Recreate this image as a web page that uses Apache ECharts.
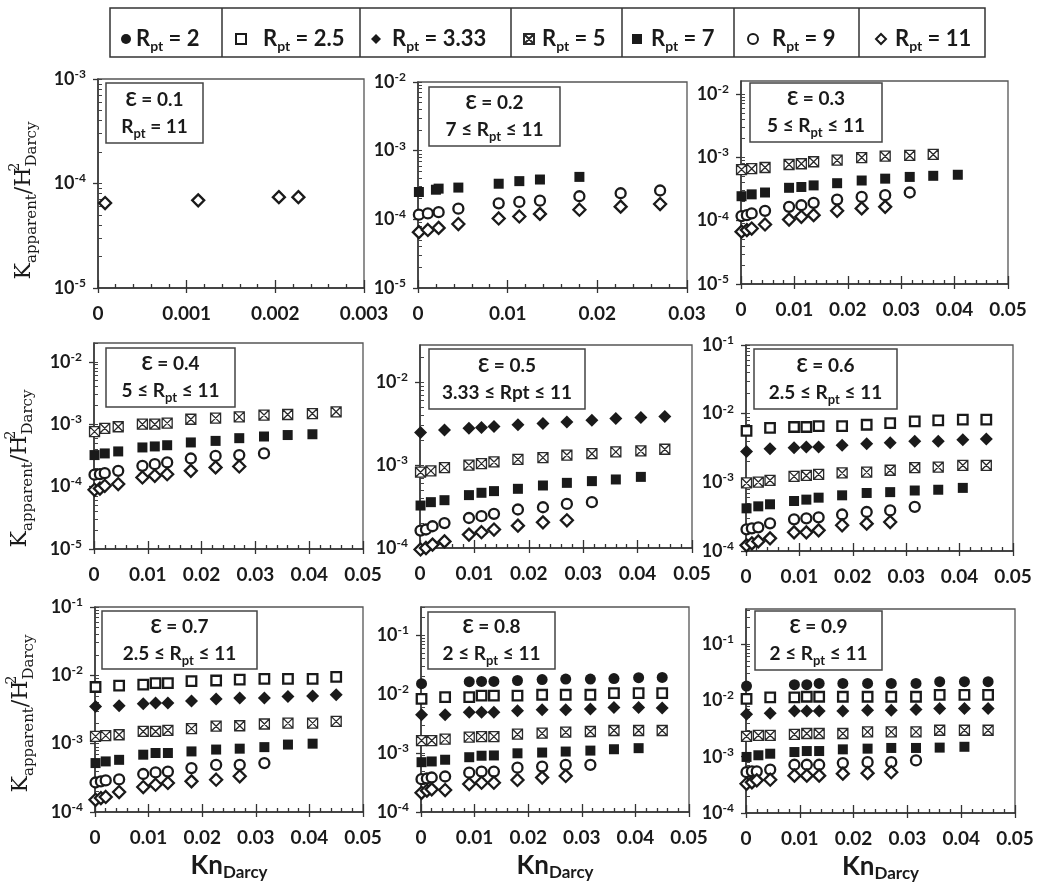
<!DOCTYPE html>
<html lang="en">
<head>
<meta charset="UTF-8">
<title>Kapparent / H2 vs KnDarcy</title>
<script src="https://cdn.jsdelivr.net/npm/echarts@6/dist/echarts.min.js"></script>
<style>
    * { margin: 0; padding: 0; }
    body { background: #fff; }
    #chart { width: 1038px; height: 892px; }
</style>
</head>
<body>
<div id="chart"></div>
<script>
    // Kn_Darcy positions (panel eps = 0.1 only has the first four)
    var KN = [0.0001, 0.0011, 0.002, 0.0023, 0.0045, 0.009, 0.0113, 0.0136, 0.018, 0.0226, 0.027, 0.0316, 0.036, 0.0406, 0.045];
    var KN_01 = [0.00008, 0.00113, 0.00204, 0.00226];

    var EPS = ['0.1', '0.2', '0.3', '0.4', '0.5', '0.6', '0.7', '0.8', '0.9'];
    var RANGES = ['R_pt = 11', '7 ≤ R_pt ≤ 11', '5 ≤ R_pt ≤ 11', '5 ≤ R_pt ≤ 11', '3.33 ≤ Rpt ≤ 11',
        '2.5 ≤ R_pt ≤ 11', '2.5 ≤ R_pt ≤ 11', '2 ≤ R_pt ≤ 11', '2 ≤ R_pt ≤ 11'];
    var NAMES = ['Rpt = 2', 'Rpt = 2.5', 'Rpt = 3.33', 'Rpt = 5', 'Rpt = 7', 'Rpt = 9', 'Rpt = 11'];

    // K_apparent / H^2 values, null = no point at that Kn
    var e01_R11 = [6.5e-5, 6.9e-5, 7.4e-5, 7.4e-5];

    var e02_R7 = [2.5e-4, null, 2.7e-4, 2.8e-4, 2.9e-4, 3.3e-4, 3.6e-4, 3.8e-4, 4.15e-4];
    var e02_R9 = [1.17e-4, 1.22e-4, null, 1.27e-4, 1.43e-4, 1.71e-4, 1.79e-4, 1.87e-4, 2.17e-4, 2.4e-4, 2.63e-4];
    var e02_R11 = [6.5e-5, 7.0e-5, null, 7.5e-5, 8.55e-5, 1.03e-4, 1.1e-4, 1.2e-4, 1.38e-4, 1.53e-4, 1.67e-4];

    var e03_R5 = [6.4e-4, null, 6.6e-4, null, 6.9e-4, 7.7e-4, 7.9e-4, 8.5e-4, 9.0e-4, 9.9e-4, 1.04e-3, 1.07e-3, 1.11e-3];
    var e03_R7 = [2.43e-4, null, 2.6e-4, null, 2.78e-4, 3.3e-4, 3.4e-4, 3.6e-4, 3.9e-4, 4.3e-4, 4.6e-4, 4.9e-4, 5.1e-4, 5.3e-4];
    var e03_R9 = [1.18e-4, 1.22e-4, 1.3e-4, null, 1.43e-4, 1.65e-4, 1.75e-4, 1.91e-4, 2.15e-4, 2.37e-4, 2.52e-4, 2.78e-4];
    var e03_R11 = [6.7e-5, 7.1e-5, 7.5e-5, null, 8.7e-5, 1.04e-4, 1.15e-4, 1.22e-4, 1.43e-4, 1.56e-4, 1.65e-4];

    var e04_R5 = [7.6e-4, null, 8.6e-4, null, 9.1e-4, 1.0e-3, 1.0e-3, 1.04e-3, 1.2e-3, 1.25e-3, 1.31e-3, 1.4e-3, 1.43e-3, 1.48e-3, 1.58e-3];
    var e04_R7 = [3.2e-4, null, 3.4e-4, null, 3.66e-4, 4.24e-4, 4.4e-4, 4.6e-4, 5.1e-4, 5.4e-4, 5.97e-4, 6.35e-4, 6.7e-4, 6.9e-4];
    var e04_R9 = [1.55e-4, 1.58e-4, 1.64e-4, null, 1.79e-4, 2.15e-4, 2.29e-4, 2.44e-4, 2.82e-4, 3.1e-4, 3.2e-4, 3.4e-4];
    var e04_R11 = [8.9e-5, 9.3e-5, 1.03e-4, null, 1.1e-4, 1.4e-4, 1.49e-4, 1.58e-4, 1.79e-4, 2.03e-4, 2.1e-4];

    var e05_R3_33 = [2.46e-3, null, null, null, 2.65e-3, 2.78e-3, 2.83e-3, 2.91e-3, 3.05e-3, 3.16e-3, 3.31e-3, 3.47e-3, 3.63e-3, 3.74e-3, 3.85e-3];
    var e05_R5 = [8.2e-4, null, 8.5e-4, null, 9.3e-4, 1.0e-3, 1.04e-3, 1.09e-3, 1.17e-3, 1.23e-3, 1.32e-3, 1.37e-3, 1.44e-3, 1.48e-3, 1.55e-3];
    var e05_R7 = [3.25e-4, null, 3.57e-4, null, 3.77e-4, 4.34e-4, 4.63e-4, 4.85e-4, 5.17e-4, 5.67e-4, 6.1e-4, 6.4e-4, 6.7e-4, 7.2e-4];
    var e05_R9 = [1.62e-4, 1.67e-4, null, 1.83e-4, 2.0e-4, 2.3e-4, 2.42e-4, 2.58e-4, 2.91e-4, 3.1e-4, 3.4e-4, 3.57e-4];
    var e05_R11 = [9.6e-5, 1.0e-4, null, 1.1e-4, 1.2e-4, 1.45e-4, 1.55e-4, 1.67e-4, 1.86e-4, 2.04e-4, 2.16e-4];

    var e06_R2_5 = [5.6e-3, null, null, null, 6.2e-3, 6.4e-3, 6.4e-3, 6.6e-3, 6.6e-3, 6.9e-3, 7.3e-3, 7.7e-3, 8.0e-3, 8.2e-3, 8.2e-3];
    var e06_R3_33 = [2.82e-3, null, null, null, 3.09e-3, 3.2e-3, 3.27e-3, 3.27e-3, 3.46e-3, 3.66e-3, 3.78e-3, 3.96e-3, 3.96e-3, 4.18e-3, 4.28e-3];
    var e06_R5 = [9.8e-4, null, null, 1.01e-3, 1.07e-3, 1.22e-3, 1.26e-3, 1.31e-3, 1.37e-3, 1.41e-3, 1.5e-3, 1.64e-3, 1.67e-3, 1.77e-3, 1.77e-3];
    var e06_R7 = [4.18e-4, null, null, 4.47e-4, 4.79e-4, 5.35e-4, 5.6e-4, 5.98e-4, 6.47e-4, 7.0e-4, 7.2e-4, 7.6e-4, 7.8e-4, 8.3e-4];
    var e06_R9 = [2.07e-4, 2.14e-4, null, 2.21e-4, 2.53e-4, 2.89e-4, 2.99e-4, 3.09e-4, 3.4e-4, 3.7e-4, 3.9e-4, 4.4e-4];
    var e06_R11 = [1.21e-4, 1.29e-4, null, 1.38e-4, 1.53e-4, 1.87e-4, 1.87e-4, 2.0e-4, 2.37e-4, 2.5e-4, 2.64e-4];

    var e07_R2_5 = [6.75e-3, null, null, null, 7.06e-3, 7.3e-3, 7.7e-3, 7.7e-3, 8.2e-3, 8.4e-3, 8.65e-3, 8.9e-3, 8.9e-3, 8.9e-3, 9.5e-3];
    var e07_R3_33 = [3.5e-3, null, null, null, 3.6e-3, 3.85e-3, 3.95e-3, 3.95e-3, 4.2e-3, 4.5e-3, 4.65e-3, 4.65e-3, 4.9e-3, 5.0e-3, 5.2e-3];
    var e07_R5 = [1.28e-3, null, 1.31e-3, null, 1.35e-3, 1.51e-3, 1.51e-3, 1.57e-3, 1.66e-3, 1.8e-3, 1.83e-3, 1.94e-3, 2.0e-3, 2.0e-3, 2.12e-3];
    var e07_R7 = [5.2e-4, null, 5.5e-4, null, 5.8e-4, 6.9e-4, 7.3e-4, 7.3e-4, 7.7e-4, 8.2e-4, 8.45e-4, 8.9e-4, 9.7e-4, 1.0e-3];
    var e07_R9 = [2.7e-4, 2.8e-4, 2.9e-4, null, 3.0e-4, 3.6e-4, 3.8e-4, 3.9e-4, 4.4e-4, 4.9e-4, 4.9e-4, 5.2e-4];
    var e07_R11 = [1.51e-4, 1.6e-4, 1.66e-4, null, 1.96e-4, 2.32e-4, 2.51e-4, 2.66e-4, 2.81e-4, 2.97e-4, 3.33e-4];

    var e08_R2 = [1.5e-2, null, null, null, null, 1.62e-2, 1.64e-2, 1.64e-2, 1.7e-2, 1.76e-2, 1.8e-2, 1.8e-2, 1.83e-2, 1.9e-2, 1.92e-2];
    var e08_R2_5 = [8.3e-3, null, null, null, 8.9e-3, 8.9e-3, 9.4e-3, 9.4e-3, 9.4e-3, 9.75e-3, 9.75e-3, 9.75e-3, 1.04e-2, 1.04e-2, 1.04e-2];
    var e08_R3_33 = [4.46e-3, null, null, null, 4.46e-3, 4.9e-3, 4.9e-3, 4.9e-3, 5.2e-3, 5.4e-3, 5.4e-3, 5.6e-3, 5.9e-3, 5.9e-3, 5.8e-3];
    var e08_R5 = [1.63e-3, null, 1.63e-3, null, 1.72e-3, 1.86e-3, 1.9e-3, 1.9e-3, 2.09e-3, 2.17e-3, 2.26e-3, 2.32e-3, 2.41e-3, 2.41e-3, 2.41e-3];
    var e08_R7 = [7.0e-4, null, 7.2e-4, null, 7.7e-4, 8.5e-4, 9.0e-4, 9.1e-4, 9.9e-4, 1.02e-3, 1.06e-3, 1.1e-3, 1.16e-3, 1.21e-3];
    var e08_R9 = [3.6e-4, 3.7e-4, 3.85e-4, null, 4.0e-4, 4.65e-4, 4.85e-4, 4.85e-4, 5.65e-4, 5.9e-4, 6.3e-4, 6.3e-4];
    var e08_R11 = [2.12e-4, 2.3e-4, 2.42e-4, null, 2.36e-4, 2.98e-4, 3.14e-4, 3.14e-4, 3.49e-4, 3.83e-4, 4.08e-4];

    var e09_R2 = [1.8e-2, null, null, null, null, 1.9e-2, 1.9e-2, 2.0e-2, 2.0e-2, 2.0e-2, 2.0e-2, 2.0e-2, 2.15e-2, 2.15e-2, 2.15e-2];
    var e09_R2_5 = [1.06e-2, null, null, null, 1.13e-2, 1.13e-2, 1.16e-2, 1.16e-2, 1.16e-2, 1.16e-2, 1.16e-2, 1.16e-2, 1.25e-2, 1.25e-2, 1.25e-2];
    var e09_R3_33 = [5.7e-3, null, null, null, 5.9e-3, 6.45e-3, 6.45e-3, 6.45e-3, 6.5e-3, 6.7e-3, 6.7e-3, 6.9e-3, 7.2e-3, 7.2e-3, 7.2e-3];
    var e09_R5 = [2.3e-3, null, null, 2.4e-3, 2.4e-3, 2.5e-3, 2.58e-3, 2.58e-3, 2.58e-3, 2.76e-3, 2.76e-3, 2.76e-3, 2.95e-3, 2.95e-3, 2.95e-3];
    var e09_R7 = [9.9e-4, null, null, 1.06e-3, 1.13e-3, 1.21e-3, 1.26e-3, 1.26e-3, 1.35e-3, 1.39e-3, 1.43e-3, 1.43e-3, 1.45e-3, 1.5e-3];
    var e09_R9 = [5.3e-4, 5.5e-4, 5.5e-4, null, 5.9e-4, 7.2e-4, 7.2e-4, 7.2e-4, 7.7e-4, 8.0e-4, 8.0e-4, 8.6e-4];
    var e09_R11 = [3.3e-4, 3.5e-4, 3.8e-4, null, 3.9e-4, 4.6e-4, 4.6e-4, 4.6e-4, 5.0e-4, 5.1e-4, 5.3e-4];

    var PANEL_SERIES = [
        { 'Rpt = 11': e01_R11 },
        { 'Rpt = 7': e02_R7, 'Rpt = 9': e02_R9, 'Rpt = 11': e02_R11 },
        { 'Rpt = 5': e03_R5, 'Rpt = 7': e03_R7, 'Rpt = 9': e03_R9, 'Rpt = 11': e03_R11 },
        { 'Rpt = 5': e04_R5, 'Rpt = 7': e04_R7, 'Rpt = 9': e04_R9, 'Rpt = 11': e04_R11 },
        { 'Rpt = 3.33': e05_R3_33, 'Rpt = 5': e05_R5, 'Rpt = 7': e05_R7, 'Rpt = 9': e05_R9, 'Rpt = 11': e05_R11 },
        { 'Rpt = 2.5': e06_R2_5, 'Rpt = 3.33': e06_R3_33, 'Rpt = 5': e06_R5, 'Rpt = 7': e06_R7, 'Rpt = 9': e06_R9, 'Rpt = 11': e06_R11 },
        { 'Rpt = 2.5': e07_R2_5, 'Rpt = 3.33': e07_R3_33, 'Rpt = 5': e07_R5, 'Rpt = 7': e07_R7, 'Rpt = 9': e07_R9, 'Rpt = 11': e07_R11 },
        { 'Rpt = 2': e08_R2, 'Rpt = 2.5': e08_R2_5, 'Rpt = 3.33': e08_R3_33, 'Rpt = 5': e08_R5, 'Rpt = 7': e08_R7, 'Rpt = 9': e08_R9, 'Rpt = 11': e08_R11 },
        { 'Rpt = 2': e09_R2, 'Rpt = 2.5': e09_R2_5, 'Rpt = 3.33': e09_R3_33, 'Rpt = 5': e09_R5, 'Rpt = 7': e09_R7, 'Rpt = 9': e09_R9, 'Rpt = 11': e09_R11 }
    ];

    // axis ranges
    var X_MAX = [0.003, 0.03, 0.05, 0.05, 0.05, 0.05, 0.05, 0.05, 0.05];
    var X_STEP = [0.001, 0.01, 0.01, 0.01, 0.01, 0.01, 0.01, 0.01, 0.01];
    var Y_MIN = [1e-5, 1e-5, 1e-5, 1e-5, 1e-4, 1e-4, 1e-4, 1e-4, 1e-4];
    var Y_MAX = [1e-3, 1e-2, 0.016, 0.02, 0.028, 0.1, 0.1, 0.3, 0.42];

    // layout (px): plot boxes [left, top, right, bottom] and note boxes
    var GRIDS = [
        [98, 79, 364, 288], [418, 82, 687, 288], [741, 81, 1008, 284],
        [94, 343, 363, 549], [420, 345, 692, 548], [746, 345, 1013, 551],
        [95, 607, 363, 812], [421, 607, 689, 812], [746, 609, 1015, 813]
    ];
    var NOTES = [
        [106, 83, 203, 143], [429, 87, 560, 146], [750, 83, 882, 142],
        [106, 348, 235, 407], [429, 349, 585, 409], [754, 349, 897, 409],
        [102, 611, 257, 669], [428, 612, 555, 669], [755, 611, 882, 670]
    ];
    var YTITLE_SPACER = { 0: 34, 3: 45, 6: 8 };
    var LEGEND_BOX = [110, 8, 985, 57];
    var LEGEND_DIV = [222, 360, 511, 622, 734, 859];
    var LEGEND_ICON_X = [126, 240, 376, 528, 637, 752, 880];
    var LEGEND_TEXT_X = [136, 262, 392, 541, 651, 771, 894];

    var FONT = 'Lato, "Open Sans", sans-serif';
    var SERIF = '"DejaVu Serif", "Liberation Serif", serif';
    var INK = '#1a1a1a';

    var MARK = {
        'Rpt = 2': { symbol: 'circle', size: 11, fill: INK, line: INK, lw: 0 },
        'Rpt = 2.5': { symbol: 'rect', size: 9.5, fill: '#fff', line: INK, lw: 2.3 },
        'Rpt = 3.33': { symbol: 'diamond', size: 13, fill: INK, line: INK, lw: 0 },
        'Rpt = 5': { symbol: 'path://M0,0H10V10H0Z M0,0L10,10 M10,0L0,10', size: 10, fill: '#fff', line: '#2a2a2a', lw: 1.3 },
        'Rpt = 7': { symbol: 'rect', size: 10, fill: INK, line: INK, lw: 0 },
        'Rpt = 9': { symbol: 'circle', size: 10, fill: '#fff', line: INK, lw: 2.3 },
        'Rpt = 11': { symbol: 'diamond', size: 12, fill: '#fff', line: INK, lw: 2.3 }
    };

    function powers(min, max) {
        var out = [];
        for (var k = Math.floor(Math.log10(min)); k <= Math.ceil(Math.log10(max)); k++) {
            var v = Number('1e' + k);
            if (v >= min && v <= max) out.push(v);
        }
        return out;
    }

    function minors(min, max) {
        var out = [];
        for (var k = Math.floor(Math.log10(min)); k <= Math.ceil(Math.log10(max)); k++) {
            for (var m = 1; m <= 9; m++) {
                var v = Number(m + 'e' + k);
                if (v >= min && v <= max) out.push(v);
            }
        }
        return out;
    }

    // "R_pt" -> rich text with subscript
    function subText(str) {
        return '{n|' + str.split('R_pt').join('R}{s|pt}{n|') + '}';
    }

    var option = {
        animation: false,
        backgroundColor: '#fff',
        textStyle: { fontFamily: FONT },
        grid: [], xAxis: [], yAxis: [], series: [], legend: [], graphic: []
    };

    var axisLine = { show: true, onZero: false, lineStyle: { color: '#333', width: 1.5 } };
    var tickLine = { color: '#333', width: 1.3 };

    for (var p = 0; p < 9; p++) {
        var g = GRIDS[p];
        option.grid.push({
            left: g[0], top: g[1], width: g[2] - g[0], height: g[3] - g[1],
            show: true, borderColor: '#555', borderWidth: 1.3, backgroundColor: 'transparent',
            outerBoundsMode: 'none', containLabel: false
        });

        var xMain = {
            gridIndex: p, type: 'value', position: 'bottom', min: 0, max: X_MAX[p], interval: X_STEP[p],
            axisLine: axisLine,
            axisTick: { show: true, inside: true, length: 8, lineStyle: tickLine },
            minorTick: { show: true, splitNumber: 5, length: 4, lineStyle: tickLine },
            splitLine: { show: false },
            axisLabel: {
                margin: 16, fontSize: 19, fontWeight: 'bold', color: INK, fontFamily: FONT, hideOverlap: false,
                formatter: function (v) { return v === 0 ? '0' : String(+v.toFixed(4)); }
            }
        };
        if (p >= 6) {
            xMain.name = '{k|Kn}{d|Darcy}';
            xMain.nameLocation = 'middle';
            xMain.nameGap = 39;
            xMain.nameTextStyle = {
                rich: {
                    k: { fontSize: 26, fontWeight: 'bold', fontFamily: FONT, color: INK, lineHeight: 30 },
                    d: { fontSize: 17, fontWeight: 'bold', fontFamily: FONT, color: INK, lineHeight: 6, verticalAlign: 'bottom' }
                }
            };
        }
        option.xAxis.push(xMain);
        option.xAxis.push({
            gridIndex: p, type: 'value', position: 'bottom', min: 0, max: X_MAX[p], interval: X_STEP[p],
            axisLine: { show: false, onZero: false },
            axisTick: { show: true, inside: false, length: 5, lineStyle: tickLine },
            axisLabel: { show: false }, splitLine: { show: false }
        });

        var decades = powers(Y_MIN[p], Y_MAX[p]);
        var yMain = {
            gridIndex: p, type: 'log', logBase: 10, position: 'left', min: Y_MIN[p], max: Y_MAX[p],
            axisLine: axisLine,
            axisTick: { show: true, inside: false, length: 5, lineStyle: tickLine, customValues: decades },
            splitLine: { show: false },
            axisLabel: {
                customValues: decades, margin: 12, hideOverlap: false,
                formatter: function (v) { return '{b|10}{p|' + Math.round(Math.log10(v)) + '}'; },
                rich: {
                    b: { fontSize: 18, fontWeight: 'bold', fontFamily: FONT, color: INK, lineHeight: 22 },
                    p: { fontSize: 12, fontWeight: 'bold', fontFamily: FONT, color: INK, lineHeight: 12, verticalAlign: 'top' }
                }
            }
        };
        if (p % 3 === 0) {
            yMain.name = '{k|K}{a|apparent}{k|/H}{t|2}{a|Darcy}{sp| }';
            yMain.nameLocation = 'middle';
            yMain.nameGap = 58;
            yMain.nameTextStyle = {
                rich: {
                    k: { fontSize: 22, fontFamily: SERIF, color: INK, lineHeight: 32 },
                    a: { fontSize: 15, fontFamily: SERIF, color: INK, lineHeight: 12, verticalAlign: 'bottom' },
                    t: { fontSize: 14, fontFamily: SERIF, color: INK, lineHeight: 14, verticalAlign: 'top', width: 1 },
                    sp: { fontSize: 10, width: YTITLE_SPACER[p] }
                }
            };
        }
        option.yAxis.push(yMain);
        option.yAxis.push({
            gridIndex: p, type: 'log', logBase: 10, position: 'left', min: Y_MIN[p], max: Y_MAX[p],
            axisLine: { show: false, onZero: false },
            axisTick: { show: true, inside: true, length: 4, lineStyle: { color: '#444', width: 1 }, customValues: minors(Y_MIN[p], Y_MAX[p]) },
            axisLabel: { show: false }, splitLine: { show: false }
        });

        var xs = p === 0 ? KN_01 : KN;
        NAMES.forEach(function (name) {
            var vals = PANEL_SERIES[p][name];
            if (!vals) return;
            var data = [];
            vals.forEach(function (v, i) { if (v != null) data.push([xs[i], v]); });
            var m = MARK[name];
            option.series.push({
                name: name, type: 'scatter', xAxisIndex: 2 * p, yAxisIndex: 2 * p, clip: false,
                symbol: m.symbol, symbolSize: m.size, data: data,
                itemStyle: { color: m.fill, borderColor: m.line, borderWidth: m.lw, opacity: 1 },
                emphasis: { disabled: true }
            });
        });

        // epsilon note box
        var nb = NOTES[p];
        option.graphic.push({
            type: 'rect', z: 10,
            shape: { x: nb[0], y: nb[1], width: nb[2] - nb[0], height: nb[3] - nb[1] },
            style: { fill: '#fff', stroke: '#444', lineWidth: 1.5 }
        });
        option.graphic.push({
            type: 'text', z: 11,
            x: (nb[0] + nb[2]) / 2, y: (nb[1] + nb[3]) / 2,
            style: {
                text: '{n|Ɛ = ' + EPS[p] + '}\n' + subText(RANGES[p]),
                align: 'center', verticalAlign: 'middle',
                rich: {
                    n: { fontSize: 19, fontWeight: 'bold', fontFamily: FONT, fill: INK, lineHeight: 27 },
                    s: { fontSize: 13, fontWeight: 'bold', fontFamily: FONT, fill: INK, lineHeight: 14, verticalAlign: 'bottom' }
                }
            }
        });
    }

    // legend: one component per cell of the boxed strip
    NAMES.forEach(function (name, i) {
        option.legend.push({
            data: [name], left: LEGEND_ICON_X[i] - 5, top: 28, padding: 0,
            itemWidth: 10, itemHeight: 10, selectedMode: false,
            formatter: function (n) { return '{r|R}{s|pt}{r|' + n.replace('Rpt', '') + '}'; },
            textStyle: {
                padding: [0, 0, 0, LEGEND_TEXT_X[i] - LEGEND_ICON_X[i] - 10],
                rich: {
                    r: { fontSize: 22, fontWeight: 'bold', fontFamily: FONT, color: INK, lineHeight: 28 },
                    s: { fontSize: 14, fontWeight: 'bold', fontFamily: FONT, color: INK, lineHeight: 14, verticalAlign: 'bottom' }
                }
            }
        });
    });
    option.graphic.push({
        type: 'rect',
        shape: { x: LEGEND_BOX[0], y: LEGEND_BOX[1], width: LEGEND_BOX[2] - LEGEND_BOX[0], height: LEGEND_BOX[3] - LEGEND_BOX[1] },
        style: { fill: 'none', stroke: '#333', lineWidth: 1.5 }
    });
    LEGEND_DIV.forEach(function (x) {
        option.graphic.push({
            type: 'line',
            shape: { x1: x, y1: LEGEND_BOX[1], x2: x, y2: LEGEND_BOX[3] },
            style: { stroke: '#333', lineWidth: 1.5 }
        });
    });

    var chart = echarts.init(document.getElementById('chart'));
    chart.setOption(option);
</script>
</body>
</html>
